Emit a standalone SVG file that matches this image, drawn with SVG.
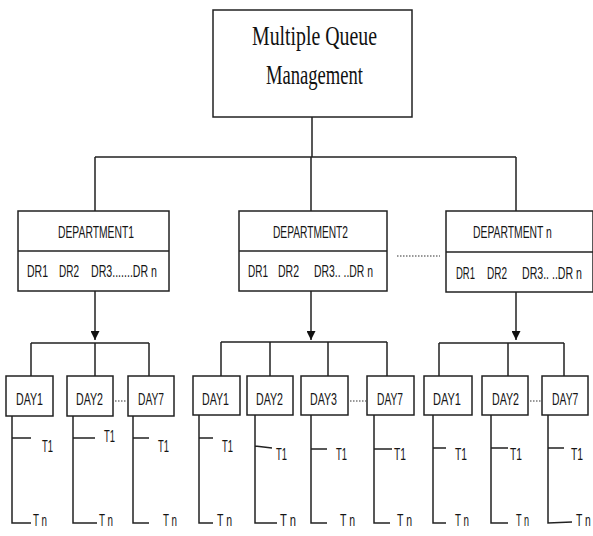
<svg xmlns="http://www.w3.org/2000/svg" width="593" height="536" viewBox="0 0 593 536">
<style>
.box{fill:#fff;stroke:#222;stroke-width:1.5}
.ln{fill:none;stroke:#222;stroke-width:1.5}
.dot{fill:none;stroke:#333;stroke-width:1.2;stroke-dasharray:1.5 1.5}
.ser{font-family:"Liberation Serif","Times New Roman",serif;font-size:28px;fill:#111}
.s{font-family:"Liberation Sans",Arial,sans-serif;font-size:16px;fill:#151515}
.d{font-family:"Liberation Sans",Arial,sans-serif;font-size:17px;fill:#151515}
</style>
<defs>
<marker id="ah" viewBox="0 0 10 10" refX="10" refY="5" markerWidth="9" markerHeight="9" markerUnits="userSpaceOnUse" orient="auto">
<path d="M0,0 L10,5 L0,10 Z" fill="#111"/>
</marker>
</defs>

<g id="connectors">
<path class="ln" d="M312,117 V157 M95,157 H516 M95,157 V211 M311,157 V211 M516,157 V211"/>
<line class="ln" x1="95" y1="291" x2="95" y2="340" marker-end="url(#ah)"/>
<line class="ln" x1="311" y1="291" x2="311" y2="340" marker-end="url(#ah)"/>
<line class="ln" x1="516" y1="292" x2="516" y2="340" marker-end="url(#ah)"/>
<line class="dot" x1="397" y1="256" x2="440" y2="256"/>
<path class="ln" d="M31,343 H149 M31,343 V376 M95,343 V376 M149,343 V376"/>
<path class="ln" d="M221,342 H387 M221,342 V376 M270,342 V376 M328,342 V376 M387,342 V376"/>
<path class="ln" d="M439,343 H564 M439,343 V376 M508,343 V376 M564,343 V376"/>
<line class="dot" x1="115" y1="401" x2="127" y2="401"/>
<line class="dot" x1="350" y1="401" x2="366" y2="401"/>
<line class="dot" x1="530" y1="401" x2="541" y2="401"/>
<path class="ln" d="M12,416 V523 H31 M12,438 H31"/>
<path class="ln" d="M73,416 V523 H97 M73,438 H95"/>
<path class="ln" d="M133,416 V523 H149 M133,438 H149"/>
<path class="ln" d="M199,415 V523 H213 M199,438 H213"/>
<path class="ln" d="M255,415 V523 H277 M255,446 L272,448"/>
<path class="ln" d="M311,415 V523 H327 M311,449 H327"/>
<path class="ln" d="M374,415 V523 H390 M374,449 H392"/>
<path class="ln" d="M433,415 V523 H446 M433,448 H446"/>
<path class="ln" d="M491,415 V523 H508 M491,448 H508"/>
<path class="ln" d="M548,415 V523 L572,522 M548,448 H564"/>
</g>

<g id="top">
<rect class="box" x="213" y="10" width="199" height="107"/>
<text class="ser" x="252" y="45" textLength="125" lengthAdjust="spacingAndGlyphs">Multiple Queue</text>
<text class="ser" x="266" y="84" textLength="97" lengthAdjust="spacingAndGlyphs">Management</text>
</g>

<g id="dept1">
<rect class="box" x="18" y="211" width="151" height="80"/>
<line class="ln" x1="18" y1="251" x2="169" y2="251"/>
<text class="s" x="58" y="238" textLength="76" lengthAdjust="spacingAndGlyphs">DEPARTMENT1</text>
<text class="s" x="27" y="277" textLength="21" lengthAdjust="spacingAndGlyphs">DR1</text>
<text class="s" x="59" y="277" textLength="20" lengthAdjust="spacingAndGlyphs">DR2</text>
<text class="s" x="91" y="277" textLength="66" lengthAdjust="spacingAndGlyphs">DR3.......DR n</text>
</g>

<g id="dept2">
<rect class="box" x="239" y="211" width="148" height="80"/>
<line class="ln" x1="239" y1="251" x2="387" y2="251"/>
<text class="s" x="273" y="238" textLength="75" lengthAdjust="spacingAndGlyphs">DEPARTMENT2</text>
<text class="s" x="248" y="277" textLength="20" lengthAdjust="spacingAndGlyphs">DR1</text>
<text class="s" x="278" y="277" textLength="21" lengthAdjust="spacingAndGlyphs">DR2</text>
<text class="s" x="314" y="277" textLength="59" lengthAdjust="spacingAndGlyphs">DR3.. ..DR n</text>
</g>

<g id="deptn">
<rect class="box" x="446" y="211" width="147" height="81"/>
<line class="ln" x1="446" y1="252" x2="593" y2="252"/>
<text class="s" transform="translate(473,238) scale(0.648,1)">DEPARTMENT n</text>
<text class="s" x="456" y="279" textLength="19" lengthAdjust="spacingAndGlyphs">DR1</text>
<text class="s" x="487" y="279" textLength="20" lengthAdjust="spacingAndGlyphs">DR2</text>
<text class="s" transform="translate(522,279) scale(0.662,1)">DR3.. ..DR n</text>
</g>

<g id="g1day1"><rect class="box" x="6" y="376" width="47" height="40"/><text class="d" x="16" y="405" textLength="27" lengthAdjust="spacingAndGlyphs">DAY1</text></g>
<g id="g1day2"><rect class="box" x="67" y="376" width="46" height="40"/><text class="d" x="76" y="405" textLength="27" lengthAdjust="spacingAndGlyphs">DAY2</text></g>
<g id="g1day7"><rect class="box" x="128" y="376" width="46" height="40"/><text class="d" x="138" y="405" textLength="26" lengthAdjust="spacingAndGlyphs">DAY7</text></g>

<g id="g2day1"><rect class="box" x="193" y="376" width="47" height="39"/><text class="d" x="202" y="405" textLength="27" lengthAdjust="spacingAndGlyphs">DAY1</text></g>
<g id="g2day2"><rect class="box" x="247" y="376" width="46" height="39"/><text class="d" x="256" y="405" textLength="27" lengthAdjust="spacingAndGlyphs">DAY2</text></g>
<g id="g2day3"><rect class="box" x="301" y="376" width="47" height="39"/><text class="d" x="310" y="405" textLength="27" lengthAdjust="spacingAndGlyphs">DAY3</text></g>
<g id="g2day7"><rect class="box" x="367" y="376" width="47" height="39"/><text class="d" x="377" y="405" textLength="26" lengthAdjust="spacingAndGlyphs">DAY7</text></g>

<g id="g3day1"><rect class="box" x="424" y="376" width="48" height="39"/><text class="d" x="433" y="405" textLength="28" lengthAdjust="spacingAndGlyphs">DAY1</text></g>
<g id="g3day2"><rect class="box" x="482" y="376" width="46" height="39"/><text class="d" x="492" y="405" textLength="27" lengthAdjust="spacingAndGlyphs">DAY2</text></g>
<g id="g3day7"><rect class="box" x="542" y="376" width="46" height="39"/><text class="d" transform="translate(552,405) scale(0.61,1)">DAY7</text></g>

<g id="tasks">
<text class="d" x="42" y="452" textLength="11" lengthAdjust="spacingAndGlyphs">T1</text>
<text class="d" x="104" y="442" textLength="11" lengthAdjust="spacingAndGlyphs">T1</text>
<text class="d" x="158" y="452" textLength="11" lengthAdjust="spacingAndGlyphs">T1</text>
<text class="d" x="222" y="452" textLength="11" lengthAdjust="spacingAndGlyphs">T1</text>
<text class="d" x="276" y="460" textLength="11" lengthAdjust="spacingAndGlyphs">T1</text>
<text class="d" x="336" y="460" textLength="11" lengthAdjust="spacingAndGlyphs">T1</text>
<text class="d" x="394" y="460" textLength="12" lengthAdjust="spacingAndGlyphs">T1</text>
<text class="d" x="455" y="460" textLength="12" lengthAdjust="spacingAndGlyphs">T1</text>
<text class="d" x="510" y="460" textLength="12" lengthAdjust="spacingAndGlyphs">T1</text>
<text class="d" transform="translate(571,460) scale(0.61,1)">T1</text>
<text class="d" x="33" y="526" textLength="14" lengthAdjust="spacingAndGlyphs">T n</text>
<text class="d" x="99" y="526" textLength="14" lengthAdjust="spacingAndGlyphs">T n</text>
<text class="d" x="163" y="526" textLength="14" lengthAdjust="spacingAndGlyphs">T n</text>
<text class="d" x="217" y="526" textLength="15" lengthAdjust="spacingAndGlyphs">T n</text>
<text class="d" x="280" y="526" textLength="16" lengthAdjust="spacingAndGlyphs">T n</text>
<text class="d" x="340" y="526" textLength="15" lengthAdjust="spacingAndGlyphs">T n</text>
<text class="d" x="397" y="526" textLength="15" lengthAdjust="spacingAndGlyphs">T n</text>
<text class="d" x="455" y="526" textLength="14" lengthAdjust="spacingAndGlyphs">T n</text>
<text class="d" x="516" y="526" textLength="13" lengthAdjust="spacingAndGlyphs">T n</text>
<text class="d" transform="translate(576,526) scale(0.61,1)">T n</text>
</g>
</svg>
